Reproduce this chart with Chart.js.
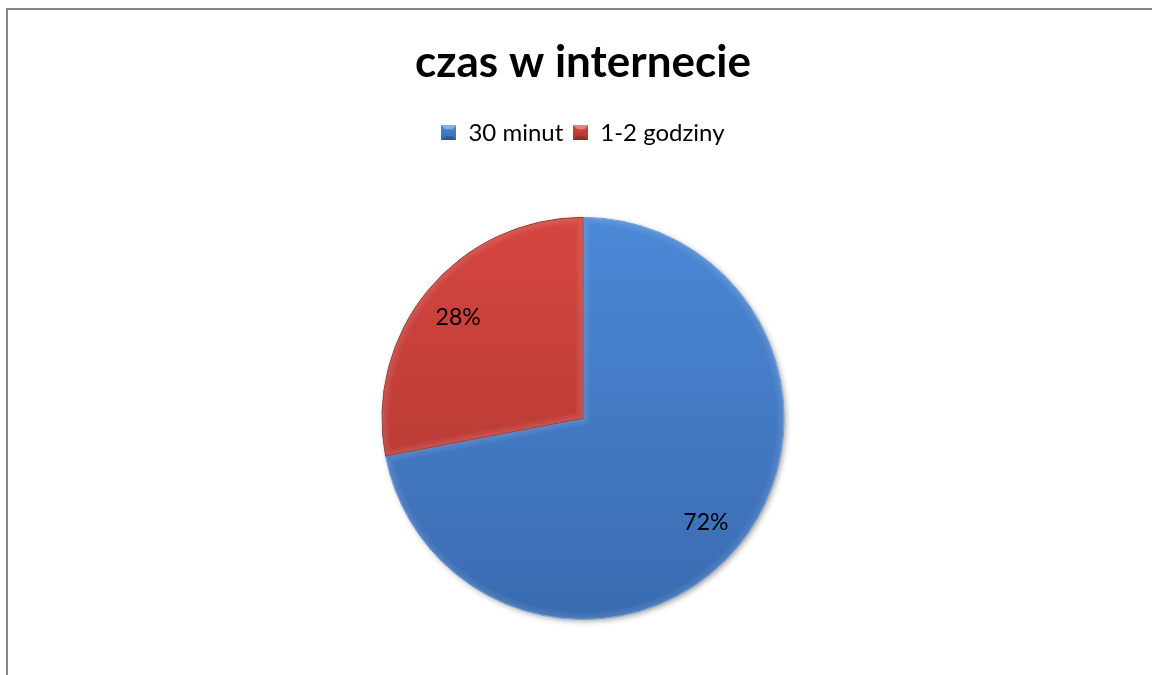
<!DOCTYPE html>
<html>
<head>
<meta charset="utf-8">
<script src="https://cdn.jsdelivr.net/npm/chart.js@4.4.0/dist/chart.umd.min.js"></script>
<style>
  html, body { margin: 0; padding: 0; background: #fff; overflow: hidden; }
  #frame {
    position: absolute; left: 6px; top: 8px; width: 1160px; height: 700px;
    border-left: 2px solid #878787; border-top: 2px solid #878787;
  }
  #chart { position: absolute; left: 0; top: 0; }
</style>
</head>
<body>
<div id="frame"><canvas id="chart" width="1150" height="680"></canvas></div>
<script>
// Chart data
const chartTitle = 'czas w internecie';
const categories = ['30 minut', '1-2 godziny'];
const shares = [72, 28];
const pctLabels = ['72%', '28%'];

// Slice colours (top / bottom of gradient)
const sliceColors = [
    { top: '#4b88d6', bottom: '#3a6bb0', base: '#4279c4' },
    { top: '#d5463f', bottom: '#ab3531', base: '#c03e3a' }
];

const FONT = 'Lato, "Open Sans", "DejaVu Sans", sans-serif';

// Small bevelled squares for the legend
function makeLegendBox(c) {
    const cv = document.createElement('canvas');
    cv.width = 15; cv.height = 15;
    const g = cv.getContext('2d');
    const grad = g.createLinearGradient(0, 0, 0, 15);
    grad.addColorStop(0, c.top);
    grad.addColorStop(1, c.bottom);
    g.fillStyle = grad;
    g.fillRect(0, 0, 15, 15);
    g.fillStyle = 'rgba(255,255,255,0.35)';
    g.beginPath(); g.moveTo(0, 0); g.lineTo(15, 0); g.lineTo(11, 4); g.lineTo(4, 4); g.closePath(); g.fill();
    g.fillStyle = 'rgba(0,0,0,0.2)';
    g.beginPath(); g.moveTo(0, 15); g.lineTo(15, 15); g.lineTo(11, 11); g.lineTo(4, 11); g.closePath(); g.fill();
    return cv;
}
const legendBoxes = sliceColors.map(makeLegendBox);

function sliceFill(ctx) {
    const chart = ctx.chart;
    const area = chart.chartArea;
    const c = sliceColors[ctx.dataIndex];
    if (!area) return c.base;
    const cy = (area.top + area.bottom) / 2;
    const grad = chart.ctx.createLinearGradient(0, cy - 201, 0, cy + 201);
    grad.addColorStop(0, c.top);
    grad.addColorStop(1, c.bottom);
    return grad;
}

function arcPath(ctx, p) {
    ctx.beginPath();
    ctx.moveTo(p.x, p.y);
    ctx.arc(p.x, p.y, p.outerRadius, p.startAngle, p.endAngle);
    ctx.closePath();
}

// Soft shadow behind the pie
const shadowPlugin = {
    id: 'pieShadow',
    beforeDatasetsDraw(chart) {
        const arc = chart.getDatasetMeta(0).data[0];
        if (!arc) return;
        const { x, y, outerRadius } = arc.getProps(['x', 'y', 'outerRadius'], true);
        const ctx = chart.ctx;
        ctx.save();
        ctx.shadowColor = 'rgba(0,0,0,0.45)';
        ctx.shadowBlur = 6;
        ctx.shadowOffsetX = 2;
        ctx.shadowOffsetY = 2;
        ctx.fillStyle = '#3a6bb0';
        ctx.beginPath();
        ctx.arc(x, y, outerRadius - 1, 0, Math.PI * 2);
        ctx.fill();
        ctx.restore();
    }
};

// Soft bevel inside each slice, then percentage labels
const pctPlugin = {
    id: 'pctLabels',
    afterDatasetsDraw(chart) {
        const ctx = chart.ctx;
        const arcs = chart.getDatasetMeta(0).data;
        arcs.forEach((arc) => {
            const p = arc.getProps(['x', 'y', 'startAngle', 'endAngle', 'outerRadius'], true);
            ctx.save();
            arcPath(ctx, p);
            ctx.clip();
            ctx.lineJoin = 'round';
            [14, 10, 6, 3].forEach((w) => {
                arcPath(ctx, p);
                ctx.strokeStyle = 'rgba(255,255,255,0.035)';
                ctx.lineWidth = w;
                ctx.stroke();
            });
            ctx.restore();
        });
        arcs.forEach((arc, i) => {
            const p = arc.getProps(['x', 'y', 'startAngle', 'endAngle', 'outerRadius'], true);
            const mid = (p.startAngle + p.endAngle) / 2;
            const r = p.outerRadius * 0.8;
            ctx.save();
            ctx.font = '23px ' + FONT;
            ctx.fillStyle = '#000';
            ctx.textAlign = 'center';
            ctx.textBaseline = 'middle';
            ctx.fillText(pctLabels[i], p.x + Math.cos(mid) * r - 1, p.y + Math.sin(mid) * r + 2);
            ctx.restore();
        });
    }
};

new Chart(document.getElementById('chart'), {
    type: 'pie',
    data: {
        labels: categories,
        datasets: [{
            data: shares,
            backgroundColor: sliceFill,
            borderColor: ['#6a9de0', '#8e2c29'],
            borderWidth: 1,
            radius: 201
        }]
    },
    options: {
        responsive: false,
        devicePixelRatio: 1,
        animation: false,
        layout: { padding: { bottom: 8 } },
        plugins: {
            title: {
                display: true,
                text: chartTitle,
                color: '#000',
                font: { family: FONT, size: 44, weight: 'bold' },
                padding: { top: 26, bottom: 22 }
            },
            legend: {
                position: 'top',
                labels: {
                    color: '#000',
                    font: { family: FONT, size: 24 },
                    usePointStyle: true,
                    pointStyle: legendBoxes,
                    boxWidth: 15,
                    boxHeight: 15,
                    padding: 10,
                    generateLabels(chart) {
                        return categories.map((name, i) => ({
                            text: name,
                            pointStyle: legendBoxes[i],
                            fillStyle: sliceColors[i].base,
                            strokeStyle: sliceColors[i].base,
                            lineWidth: 0,
                            hidden: false,
                            index: i,
                            fontColor: '#000'
                        }));
                    }
                }
            },
            tooltip: { enabled: false }
        }
    },
    plugins: [shadowPlugin, pctPlugin]
});
</script>
</body>
</html>
